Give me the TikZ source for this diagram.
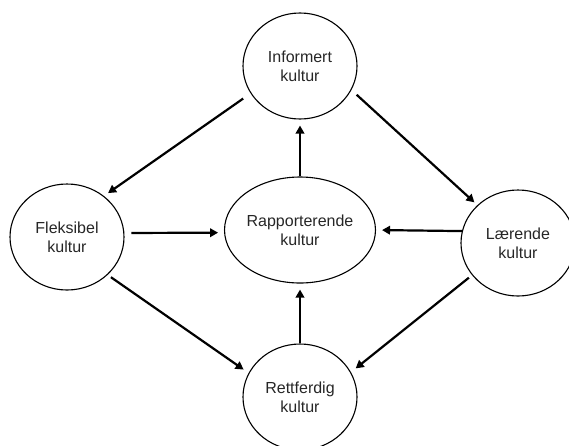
\documentclass[tikz,border=0pt]{standalone}
\usepackage{fontspec}
\setmainfont{Liberation Sans}
\usetikzlibrary{shapes.geometric,arrows.meta}
\tikzset{
  kultur/.style={draw, ellipse, line width=1.1pt, minimum width=114pt, minimum height=106pt,
    inner sep=0pt, align=center, text=black!85, font=\fontsize{16}{19}\selectfont},
  pil/.style={line width=2.2pt, -{Triangle[length=8pt,width=8.5pt]}, shorten >=6pt}
}
\begin{document}
\begin{tikzpicture}[x=1pt,y=-1pt]
	%%%%% START %%%%%
	\useasboundingbox (0,0) rectangle (569,445);

	\node[kultur] (informert) at (300,66) {Informert\\kultur};
	\node[kultur] (fleksibel) at (67,237) {Fleksibel\\kultur};
	\node[kultur] (rapport) at (300,230) {Rapporterende\\kultur};
	\node[kultur] (laerende) at (518,243) {Lærende\\kultur};
	\node[kultur] (rettferdig) at (300,397) {Rettferdig\\kultur};

	% ytre ring
	\draw[pil, shorten <=9pt, shorten >=5pt] (informert.209) -- (fleksibel.48);
	\draw[pil, shorten <=7pt, shorten >=4pt] (informert.-25) -- (laerende.137);
	\draw[pil, shorten <=4pt] (fleksibel.-43) -- (rettferdig.155);
	\draw[pil, shorten <=4pt] (laerende.215) -- (rettferdig.26);

	% inn mot midten
	\draw[pil, shorten <=7pt] (fleksibel.4) -- (rapport.182);
	\draw[pil] (laerende.168) -- (rapport.0);
	\draw[pil] (rettferdig.north) -- (rapport.south);
	\draw[pil] (rapport.north) -- (informert.south);

	%%%%% END %%%%%
\end{tikzpicture}
\end{document}
